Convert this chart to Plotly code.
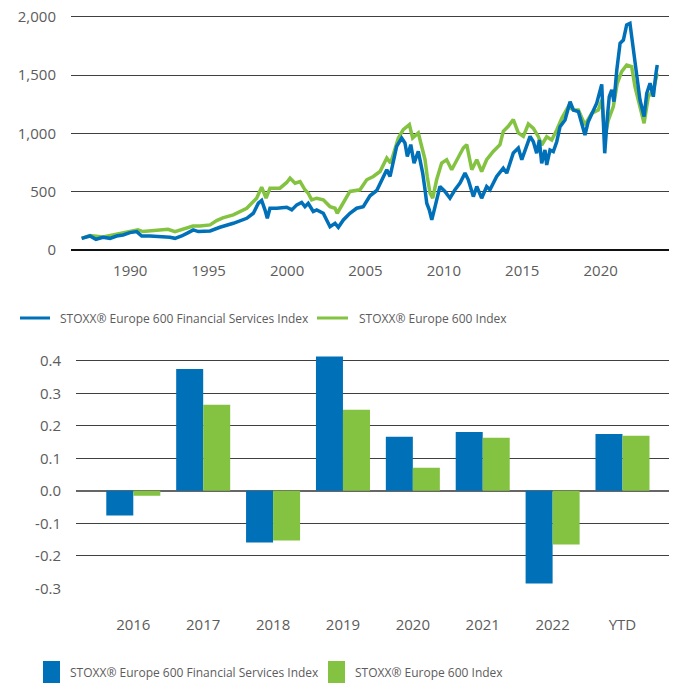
import plotly.graph_objects as go

# ---- Top chart: index levels (decimal years) ----
fs_years = [1986.90, 1987.43, 1987.81, 1988.26, 1988.71, 1989.13, 1989.54, 1989.98, 1990.41, 1990.73,
            1991.26, 1991.90, 1992.53, 1992.85, 1993.28, 1993.70, 1994.02, 1994.34, 1995.09, 1995.72,
            1996.57, 1997.43, 1997.85, 1998.17, 1998.38, 1998.59, 1998.74, 1998.91, 1999.34, 1999.98,
            2000.30, 2000.62, 2000.93, 2001.14, 2001.35, 2001.67, 2001.89, 2002.31, 2002.74, 2003.06,
            2003.27, 2003.59, 2004.01, 2004.44, 2004.86, 2005.29, 2005.72, 2006.36, 2006.57, 2006.99,
            2007.31, 2007.52, 2007.67, 2007.89, 2008.10, 2008.37, 2008.65, 2008.80, 2008.91, 2009.07,
            2009.23, 2009.44, 2009.75, 2010.07, 2010.39, 2010.71, 2011.03, 2011.35, 2011.56, 2011.88,
            2012.10, 2012.41, 2012.73, 2012.94, 2013.37, 2013.79, 2014.01, 2014.43, 2014.75, 2014.97,
            2015.28, 2015.50, 2015.71, 2015.92, 2016.09, 2016.24, 2016.45, 2016.56, 2016.77, 2016.98,
            2017.20, 2017.41, 2017.73, 2018.05, 2018.26, 2018.58, 2018.79, 2019.00, 2019.21, 2019.43,
            2019.75, 2020.07, 2020.17, 2020.26, 2020.43, 2020.55, 2020.71, 2020.85, 2021.03, 2021.24,
            2021.45, 2021.66, 2021.87, 2022.08, 2022.30, 2022.51, 2022.77, 2022.94, 2023.15, 2023.36,
            2023.53, 2023.61]
fs_values = [100, 120, 92, 109, 100, 120, 129, 149, 158, 120,
             120, 115, 109, 100, 120, 149, 172, 158, 163, 195,
             229, 272, 315, 401, 424, 344, 272, 358, 358, 367,
             344, 387, 407, 372, 401, 330, 344, 315, 200, 229,
             195, 258, 315, 358, 372, 465, 510, 688, 630, 888,
             960, 917, 802, 903, 745, 845, 659, 516, 401, 344,
             258, 372, 544, 502, 444, 516, 573, 659, 602, 458,
             544, 444, 544, 516, 630, 702, 659, 831, 874, 774,
             903, 974, 928, 829, 943, 743, 857, 729, 857, 843,
             928, 1057, 1114, 1271, 1200, 1186, 1086, 986, 1100, 1172,
             1258, 1420, 1172, 829, 1143, 1314, 1372, 1271, 1543, 1772,
             1800, 1929, 1943, 1743, 1486, 1286, 1143, 1343, 1429, 1314,
             1515, 1586]

idx_years = [1986.90, 1987.43, 1988.26, 1989.54, 1989.98, 1990.49, 1990.81, 1991.69, 1992.41, 1992.85,
             1993.36, 1994.00, 1994.45, 1995.09, 1995.51, 1995.90, 1996.57, 1997.43, 1998.06, 1998.38,
             1998.66, 1998.91, 1999.55, 1999.98, 2000.19, 2000.51, 2000.83, 2001.14, 2001.35, 2001.57,
             2001.89, 2002.31, 2002.74, 2003.06, 2003.20, 2003.59, 2004.01, 2004.65, 2005.08, 2005.50,
             2005.93, 2006.36, 2006.61, 2007.10, 2007.41, 2007.80, 2008.01, 2008.37, 2008.59, 2008.80,
             2008.94, 2009.12, 2009.29, 2009.54, 2009.86, 2010.18, 2010.50, 2010.82, 2011.24, 2011.46,
             2011.78, 2012.10, 2012.41, 2012.73, 2013.15, 2013.58, 2013.79, 2014.11, 2014.43, 2014.75,
             2015.07, 2015.39, 2015.71, 2016.03, 2016.24, 2016.56, 2016.88, 2017.20, 2017.52, 2017.94,
             2018.26, 2018.58, 2019.00, 2019.43, 2019.85, 2020.07, 2020.28, 2020.49, 2020.81, 2021.06,
             2021.34, 2021.66, 2021.98, 2022.19, 2022.51, 2022.77, 2023.04, 2023.36, 2023.61]
idx_values = [100, 125, 112, 146, 158, 172, 158, 166, 178, 158,
              178, 206, 206, 215, 252, 275, 301, 358, 444, 539,
              444, 530, 530, 579, 616, 573, 587, 516, 487, 430,
              444, 430, 372, 358, 315, 401, 502, 516, 602, 630,
              673, 788, 745, 960, 1032, 1075, 960, 1003, 888, 774,
              630, 487, 444, 602, 745, 774, 688, 774, 874, 903,
              688, 774, 673, 774, 845, 903, 1017, 1060, 1118, 1003,
              974, 1080, 1043, 971, 900, 971, 943, 1029, 1129, 1229,
              1200, 1200, 1072, 1172, 1200, 1286, 971, 1114, 1229, 1429,
              1529, 1586, 1572, 1400, 1229, 1086, 1314, 1372, 1515]

year_ticks = [1990, 1995, 2000, 2005, 2010, 2015, 2020]
level_ticks = [0, 500, 1000, 1500, 2000]

# ---- Bottom chart: annual returns ----
categories = ["2016", "2017", "2018", "2019", "2020", "2021", "2022", "YTD"]
fs_returns = [-0.076, 0.375, -0.159, 0.413, 0.166, 0.181, -0.285, 0.175]
idx_returns = [-0.015, 0.265, -0.153, 0.249, 0.071, 0.163, -0.165, 0.169]
return_ticks = [-0.3, -0.2, -0.1, 0.0, 0.1, 0.2, 0.3, 0.4]

name_fs = "STOXX® Europe 600 Financial Services Index"
name_idx = "STOXX® Europe 600 Index"

BLUE = "#0070b8"
GREEN = "#83c341"
TXT = "#5c5c5c"
GRID = "#404040"
FONT = "Open Sans, Noto Sans, sans-serif"

# page body has an 8px margin; figure is sized so it ends at the window edge
OFF = 8
W, H = 669, 675

fig = go.Figure()
fig.add_trace(go.Scatter(x=idx_years, y=idx_values, mode="lines", name=name_idx,
                         line=dict(color=GREEN, width=3.5), xaxis="x", yaxis="y", showlegend=False))
fig.add_trace(go.Scatter(x=fs_years, y=fs_values, mode="lines", name=name_fs,
                         line=dict(color=BLUE, width=3.5), xaxis="x", yaxis="y", showlegend=False))

fig.add_trace(go.Bar(x=categories, y=fs_returns, name=name_fs, marker=dict(color=BLUE, line=dict(width=0)),
                     xaxis="x2", yaxis="y2", showlegend=False))
fig.add_trace(go.Bar(x=categories, y=idx_returns, name=name_idx, marker=dict(color=GREEN, line=dict(width=0)),
                     xaxis="x2", yaxis="y2", showlegend=False))

def px_x(p):
    return min(1.0, max(0.0, (p - OFF) / W))

def px_y(p):
    return min(1.0, max(0.0, 1 - (p - OFF) / H))

fig.update_layout(
    width=W, height=H,
    margin=dict(l=0, r=0, t=0, b=0, pad=0, autoexpand=False),
    paper_bgcolor="white", plot_bgcolor="white",
    font=dict(family=FONT, size=15, color=TXT),
    barmode="group", bargap=0.227, bargroupgap=0,
    showlegend=False,
    xaxis=dict(domain=[px_x(71), px_x(669)], range=[1986.22, 2024.36], automargin=False,
               tickvals=year_ticks, ticktext=[str(v) for v in year_ticks],
               showgrid=False, zeroline=False, showline=False, ticks="",
               ticklabelstandoff=10, ticklabeloverflow="allow", anchor="y"),
    yaxis=dict(domain=[px_y(250), px_y(15.5)], range=[0, 2010], automargin=False,
               tickvals=level_ticks, ticktext=[f"{v:,}" for v in level_ticks],
               showgrid=True, gridcolor=GRID, gridwidth=1,
               zeroline=True, zerolinecolor="#111", zerolinewidth=1.5,
               showline=False, ticks="", ticklabelstandoff=14, ticklabeloverflow="allow", anchor="x"),
    xaxis2=dict(domain=[px_x(76), px_x(677)], range=[-0.82, 7.78], type="category", automargin=False,
                showgrid=False, zeroline=False, showline=False, ticks="",
                ticklabelstandoff=26, ticklabeloverflow="allow", anchor="y2"),
    yaxis2=dict(domain=[px_y(588.3), px_y(354.3)], range=[-0.3, 0.42], automargin=False,
                tickvals=return_ticks,
                ticktext=[f"{v:.1f}".replace("\u2212", "-") for v in return_ticks],
                showgrid=True, gridcolor=GRID, gridwidth=1,
                zeroline=True, zerolinecolor="#666", zerolinewidth=1.5,
                showline=False, ticks="", ticklabelstandoff=14, ticklabeloverflow="allow", anchor="x2"),
)

# Legends drawn as shapes + text
shapes = [
    dict(type="line", xref="paper", yref="paper", x0=px_x(20), x1=px_x(50), y0=px_y(318), y1=px_y(318),
         line=dict(color=BLUE, width=3)),
    dict(type="line", xref="paper", yref="paper", x0=px_x(317), x1=px_x(348), y0=px_y(318), y1=px_y(318),
         line=dict(color=GREEN, width=3)),
    dict(type="rect", xref="paper", yref="paper", x0=px_x(43), x1=px_x(60), y0=px_y(683), y1=px_y(661),
         fillcolor=BLUE, line=dict(width=0)),
    dict(type="rect", xref="paper", yref="paper", x0=px_x(328), x1=px_x(345), y0=px_y(683), y1=px_y(661),
         fillcolor=GREEN, line=dict(width=0)),
]
fig.update_layout(shapes=shapes)

ann = [
    dict(text=name_fs, x=px_x(58), y=px_y(318)),
    dict(text=name_idx, x=px_x(357), y=px_y(318)),
    dict(text=name_fs, x=px_x(68), y=px_y(672)),
    dict(text=name_idx, x=px_x(353), y=px_y(672)),
]
for a in ann:
    fig.add_annotation(xref="paper", yref="paper", xanchor="left", yanchor="middle",
                       showarrow=False, font=dict(family=FONT, size=12, color=TXT), **a)

fig.write_html("out.html")
